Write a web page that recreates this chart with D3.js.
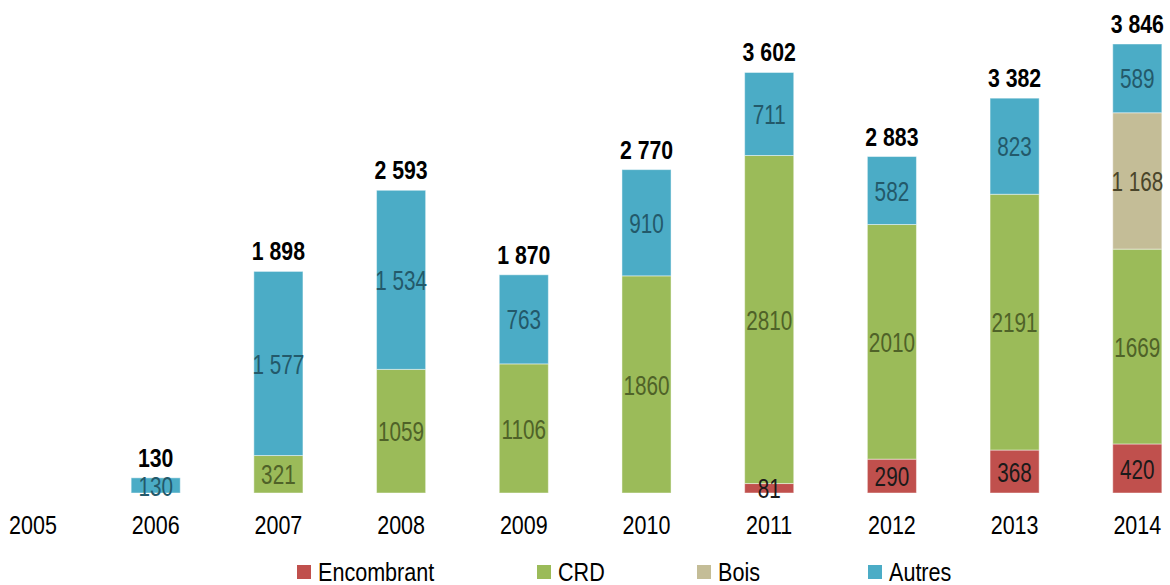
<!DOCTYPE html>
<html>
<head>
<meta charset="utf-8">
<script src="https://cdn.jsdelivr.net/npm/d3@7"></script>
<style>
  html, body { margin: 0; padding: 0; background: #fff; }
  svg text { font-family: "Liberation Sans", Arial, sans-serif; }
</style>
</head>
<body>
<svg id="chart" width="1170" height="585"></svg>
<script>
const years = ["2005","2006","2007","2008","2009","2010","2011","2012","2013","2014"];
const encombrant = [0, 0, 0, 0, 0, 0, 81, 290, 368, 420];
const crd        = [0, 0, 321, 1059, 1106, 1860, 2810, 2010, 2191, 1669];
const bois       = [0, 0, 0, 0, 0, 0, 0, 0, 0, 1168];
const autres     = [0, 130, 1577, 1534, 763, 910, 711, 582, 823, 589];
const totalLabels = ["", "130", "1 898", "2 593", "1 870", "2 770", "3 602", "2 883", "3 382", "3 846"];
const valueLabels = {
  encombrant: ["", "", "", "", "", "", "81", "290", "368", "420"],
  crd:        ["", "", "321", "1059", "1106", "1860", "2810", "2010", "2191", "1669"],
  bois:       ["", "", "", "", "", "", "", "", "", "1 168"],
  autres:     ["", "130", "1 577", "1 534", "763", "910", "711", "582", "823", "589"]
};
const seriesNames = ["Encombrant", "CRD", "Bois", "Autres"];
const seriesKeys = ["encombrant", "crd", "bois", "autres"];
const fills = ["#c0504d", "#9bbb59", "#c4bd97", "#4bacc6"];
const textColors = ["#1a1a1a", "#4f6228", "#4a452a", "#23596a"];

const rows = years.map((y, i) => ({
  year: y, encombrant: encombrant[i], crd: crd[i], bois: bois[i], autres: autres[i], i
}));
const stack = d3.stack().keys(seriesKeys)(rows);

const svg = d3.select("#chart");
const x = d3.scaleBand().domain(years).range([-28.35, 1198.65]).paddingInner(0.6).paddingOuter(0.3);
const y = d3.scaleLinear().domain([0, 3846]).range([493, 44]);

const g = svg.append("g");
stack.forEach((layer, si) => {
  g.append("g").selectAll("rect").data(layer.filter(d => d[1] - d[0] > 0)).join("rect")
    .attr("x", d => x(d.data.year))
    .attr("width", x.bandwidth())
    .attr("y", d => y(d[1]))
    .attr("height", d => y(d[0]) - y(d[1]))
    .attr("fill", fills[si])
    .attr("stroke", "rgba(255,255,255,0.45)")
    .attr("stroke-width", 1);
});
stack.forEach((layer, si) => {
  const key = seriesKeys[si];
  g.append("g").selectAll("text").data(layer.filter(d => d[1] - d[0] > 0)).join("text")
    .attr("transform", d => `translate(${x(d.data.year) + x.bandwidth() / 2},${(y(d[0]) + y(d[1])) / 2}) scale(0.74,1)`)
    .attr("dy", "0.36em")
    .attr("text-anchor", "middle")
    .attr("font-size", 28)
    .attr("fill", textColors[si])
    .text(d => valueLabels[key][d.data.i]);
});

// totals
g.append("g").selectAll("text").data(rows.filter(r => totalLabels[r.i] !== "")).join("text")
  .attr("transform", d => `translate(${x(d.year) + x.bandwidth() / 2},${y(d.encombrant + d.crd + d.bois + d.autres) - 11}) scale(0.85,1)`)
  .attr("text-anchor", "middle")
  .attr("font-size", 25)
  .attr("font-weight", "bold")
  .attr("fill", "#000")
  .text(d => totalLabels[d.i]);

// x axis
const xAxis = d3.axisBottom(x).tickSize(0).tickPadding(0);
const ax = svg.append("g").attr("transform", "translate(0,493)").call(xAxis);
ax.select(".domain").remove();
ax.selectAll("text")
  .attr("font-size", 25)
  .attr("fill", "#000")
  .attr("dy", null)
  .attr("y", null)
  .attr("transform", "translate(0,41) scale(0.86,1)")
  .style("font-family", '"Liberation Sans", Arial, sans-serif');

// legend
const legendX = [297, 537, 697, 868];
const lgd = svg.append("g");
seriesNames.forEach((name, i) => {
  lgd.append("rect").attr("x", legendX[i]).attr("y", 565).attr("width", 14).attr("height", 14).attr("fill", fills[i]);
  lgd.append("text").attr("transform", `translate(${legendX[i] + 21},581) scale(0.83,1)`)
    .attr("font-size", 26).attr("fill", "#000").text(name);
});
</script>
</body>
</html>
